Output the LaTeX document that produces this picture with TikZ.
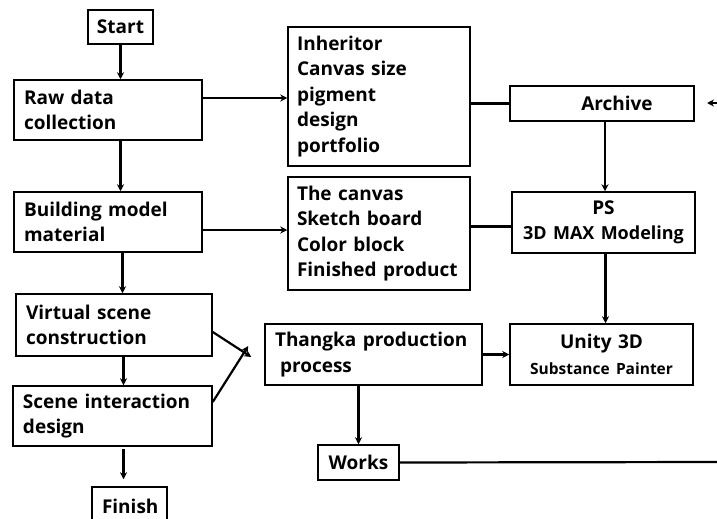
\documentclass[tikz,border=0pt]{standalone}
\usepackage{fontspec}
\setmainfont{Open Sans}
\usetikzlibrary{arrows.meta}
\tikzset{
  blk/.style={draw, line width=1.5pt, align=left, inner xsep=10pt, inner ysep=0pt},
  arr/.style={line width=2.2pt, -{Stealth[length=7pt,width=7pt]}},
  lnk/.style={line width=2.2pt},
}
\begin{document}
\begin{tikzpicture}[x=1pt, y=-1pt, font=\fontsize{19pt}{25.5pt}\selectfont\bfseries]
  \useasboundingbox (0,0) rectangle (717,519);
  \clip (0,0) rectangle (717,519);
  % left column
  \node[blk, inner xsep=6pt, text width=53pt, minimum height=34pt, align=center] (start) at (120.5,27) {Start};
  \node[blk, text width=168pt, minimum height=60pt] (raw) at (108,110) {Raw data\\collection};
  \node[blk, text width=168pt, minimum height=60pt] (build) at (108,222) {Building model\\material};
  \node[blk, text width=176pt, minimum height=62pt] (virt) at (114,325) {Virtual scene\\construction};
  \node[blk, text width=179pt, minimum height=60pt] (scene) at (112.5,416) {Scene interaction\\design};
  \node[blk, text width=55pt, minimum height=38pt, align=center] (finish) at (129.5,506) {Finish};
  % middle column
  \node[blk, inner xsep=9pt, text width=164pt, minimum height=139pt] (inher) at (379,96.5)
    {Inheritor\\Canvas size\\pigment\\design\\portfolio};
  \node[blk, inner xsep=9pt, text width=164pt, minimum height=113pt] (canvas) at (379,233.5)
    {The canvas\\Sketch board\\Color block\\Finished product};
  \node[blk, text width=197pt, minimum height=61pt] (thangka) at (373.5,354.5)
    {Thangka production\\\hspace*{5pt}process};
  \node[blk, text width=61pt, minimum height=35pt, align=center] (works) at (358.5,462.5) {Works};
  % right column
  \node[blk, text width=164pt, minimum height=35pt, align=center] (archive) at (602,103.5) {\hspace*{30pt}Archive};
  \node[blk, text width=163pt, minimum height=61pt, align=center] (ps) at (603.5,222.5)
    {PS\\{\fontsize{18pt}{25pt}\selectfont 3D MAX Modeling}};
  \node[blk, text width=163pt, minimum height=61pt, align=center] (unity) at (601.5,354.5)
    {Unity 3D\\{\fontsize{15.5pt}{22pt}\selectfont Substance Painter}};
  \coordinate (edge1) at (717,462);
  \coordinate (edge2) at (717,103);
  % connectors
  \draw[arr] (start.south) -- (start.south |- raw.north);
  \draw[arr] (raw.south -| start.south) -- (build.north -| start.south);
  \draw[arr] ([xshift=2pt]build.south -| start.south) -- ([xshift=2pt]virt.north -| start.south);
  \draw[arr] ([xshift=3pt]virt.south -| start.south) -- ([xshift=3pt]scene.north -| start.south);
  \draw[arr] ([xshift=3pt,yshift=-2pt]scene.south -| start.south) -- ([xshift=3pt,yshift=7pt]finish.north -| start.south);
  \draw[arr] ([yshift=12pt]raw.east) -- ([yshift=12pt]inher.west |- raw.east);
  \draw[arr] ([yshift=-8pt]build.east) -- ([yshift=-8pt]canvas.west |- build.east);
  \draw[lnk] (archive.west -| inher.east) -- (archive.west);
  \draw[lnk] ([yshift=-4pt]ps.west -| canvas.east) -- ([yshift=-4pt]ps.west);
  \draw[arr] ([xshift=3pt]archive.south) -- ([xshift=3pt]archive.south |- ps.north);
  \draw[arr] ([xshift=2pt]ps.south) -- ([xshift=2pt]ps.south |- unity.north);
  \draw[arr] (thangka.east) -- (unity.west);
  \draw[arr] (works.north |- thangka.south) -- (works.north);
  \draw[arr] ([yshift=-7pt]virt.east) -- ([xshift=-13pt,yshift=-2.5pt]thangka.west);
  \draw[arr] ([yshift=14pt]scene.east) -- ([xshift=-16pt,yshift=8.5pt]thangka.west);
  \draw[lnk] (works.east) -- (edge1);
  \draw[arr] (edge2) -- ([xshift=-10pt]edge2);
\end{tikzpicture}
\end{document}
